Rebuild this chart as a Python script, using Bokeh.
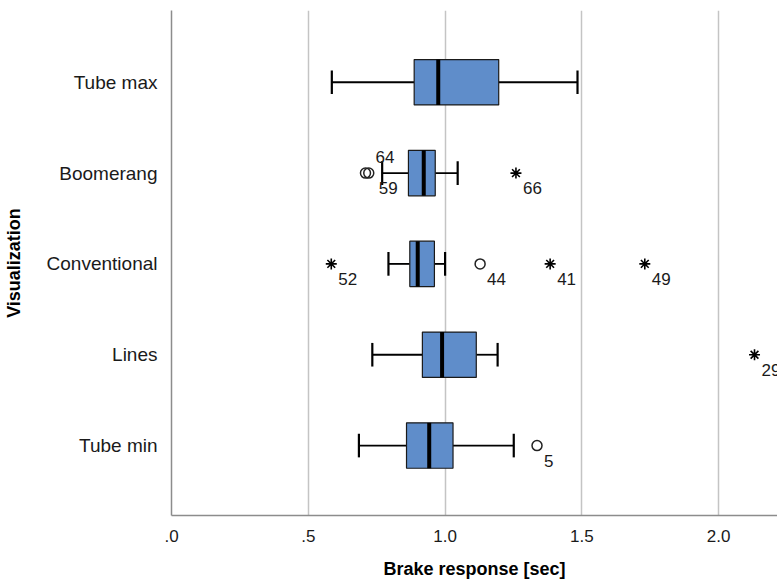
from bokeh.plotting import figure
from bokeh.models import Range1d, FixedTicker, ColumnDataSource
from bokeh.core.properties import value
from bokeh.embed import file_html
from bokeh.resources import INLINE

# ---- data ----
categories = ["Tube max", "Boomerang", "Conventional", "Lines", "Tube min"]
whisker_lo = [0.586, 0.770, 0.793, 0.734, 0.685]
q1 = [0.887, 0.866, 0.871, 0.917, 0.859]
median = [0.975, 0.922, 0.900, 0.989, 0.942]
q3 = [1.196, 0.964, 0.961, 1.114, 1.029]
whisker_hi = [1.484, 1.046, 1.000, 1.192, 1.251]

out_cat = ["Boomerang", "Boomerang", "Boomerang", "Conventional", "Conventional",
           "Conventional", "Conventional", "Lines", "Tube min"]
out_val = [0.709, 0.721, 1.259, 0.584, 1.128, 1.384, 1.730, 2.131, 1.336]
out_id = ["64", "59", "66", "52", "44", "41", "49", "29", "5"]
out_kind = ["circle", "circle", "star", "star", "circle", "star", "star", "star", "circle"]
x_ticks = [0.0, 0.5, 1.0, 1.5, 2.0]
x_tick_labels = [".0", ".5", "1.0", "1.5", "2.0"]

# ---- layout helpers ----
n = len(categories)
ypos = {c: n - 1 - i for i, c in enumerate(categories)}
ys = [ypos[c] for c in categories]
label_above = {"64"}

FONT = "Liberation Sans"
BOX = "#5F8DCA"

p = figure(width=777, height=584, output_backend="svg", toolbar_location=None,
           x_range=Range1d(0, 2.215), y_range=Range1d(-0.77, n - 1 + 0.79),
           min_border_left=170, min_border_right=0, min_border_top=10,
           min_border_bottom=69)
p.outline_line_color = None
p.background_fill_color = "white"
p.border_fill_color = "white"

# grid
p.ygrid.grid_line_color = None
p.xgrid.ticker = FixedTicker(ticks=x_ticks[1:])
p.xgrid.grid_line_color = "#C4C4C4"
p.xgrid.grid_line_width = 1.5

# axes
p.xaxis.ticker = FixedTicker(ticks=x_ticks)
p.xaxis.major_label_overrides = {t: l for t, l in zip(x_ticks, x_tick_labels)}
p.yaxis.ticker = FixedTicker(ticks=ys)
p.yaxis.major_label_overrides = {ypos[c]: c for c in categories}
for ax in (p.xaxis[0], p.yaxis[0]):
    ax.axis_line_color = "#8C8C8C"
    ax.axis_line_width = 1.5
    ax.major_tick_line_color = None
    ax.minor_tick_line_color = None
    ax.major_label_text_font = FONT
    ax.major_label_text_color = "#1a1a1a"
    ax.axis_label_text_font = FONT
    ax.axis_label_text_font_style = "bold"
    ax.axis_label_text_color = "#000000"
p.xaxis.major_label_text_font_size = "17px"
p.yaxis.major_label_text_font_size = "19px"
p.xaxis.axis_label = "Brake response [sec]"
p.yaxis.axis_label = "Visualization"
p.xaxis.axis_label_text_font_size = "18px"
p.yaxis.axis_label_text_font_size = "18px"
p.xaxis.major_label_standoff = 8
p.yaxis.major_label_standoff = 8
p.xaxis.axis_label_standoff = 14
p.yaxis.axis_label_standoff = 20

# boxes
hh = 0.25
cap = 0.13
src = ColumnDataSource(dict(y=ys, lo=whisker_lo, q1=q1, med=median, q3=q3, hi=whisker_hi,
                            ylo=[y - hh for y in ys], yhi=[y + hh for y in ys],
                            clo=[y - cap for y in ys], chi=[y + cap for y in ys]))
p.segment(x0="lo", y0="y", x1="q1", y1="y", source=src, line_color="black", line_width=1.8)
p.segment(x0="q3", y0="y", x1="hi", y1="y", source=src, line_color="black", line_width=1.8)
p.segment(x0="lo", y0="clo", x1="lo", y1="chi", source=src, line_color="black", line_width=2.2)
p.segment(x0="hi", y0="clo", x1="hi", y1="chi", source=src, line_color="black", line_width=2.2)
p.hbar(y="y", left="q1", right="q3", height=2 * hh, source=src,
       fill_color=BOX, line_color="#1a1a1a", line_width=1.2)
p.segment(x0="med", y0="ylo", x1="med", y1="yhi", source=src, line_color="black", line_width=4)

# outliers
cy = [ypos[c] for c in out_cat]
circ = [i for i, k in enumerate(out_kind) if k == "circle"]
star = [i for i, k in enumerate(out_kind) if k == "star"]
p.scatter([out_val[i] for i in circ], [cy[i] for i in circ], marker="circle", size=10,
          fill_color="white", fill_alpha=0, line_color="#222222", line_width=1.5)
p.scatter([out_val[i] for i in star], [cy[i] for i in star], marker="asterisk", size=11,
          line_color="black", line_width=1.6)

lab_y_off = [-16 if oid in label_above else 15 for oid in out_id]
lab_x_off = [10 if oid in label_above or oid == "59" else 7 for oid in out_id]
lsrc = ColumnDataSource(dict(x=out_val, y=cy, t=out_id, xo=lab_x_off, yo=lab_y_off))
p.text(x="x", y="y", text="t", source=lsrc, x_offset="xo", y_offset="yo",
       text_font=value(FONT), text_font_size="17px", text_align="left",
       text_baseline="middle", text_color="#1a1a1a")

open("out.html", "w").write(file_html(p, INLINE))
